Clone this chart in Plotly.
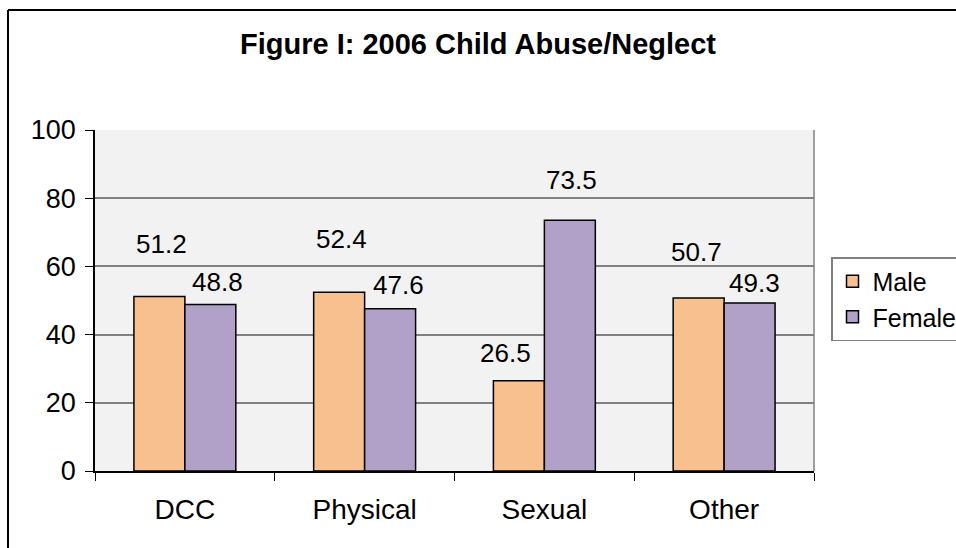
import plotly.graph_objects as go

categories = ["DCC", "Physical", "Sexual", "Other"]
male = [51.2, 52.4, 26.5, 50.7]
female = [48.8, 47.6, 73.5, 49.3]
y_ticks = [0, 20, 40, 60, 80, 100]
title_text = "Figure I: 2006 Child Abuse/Neglect"

# label placement (pixel offsets from bar top centre)
male_label_dx = [2, 2, -13, -2]
male_label_dy = [52, 53, 28, 46]
female_label_dx = [7, 8, 2, 5]
female_label_dy = [23, 24, 40, 20]

FONT = "Liberation Sans, Arial, sans-serif"
W, H = 956, 548
L, R, T, B = 95, 814, 130, 471

fig = go.Figure()
fig.add_trace(go.Bar(name="Male", x=categories, y=male,
                     marker=dict(color="#F9C08F", line=dict(color="black", width=1.5))))
fig.add_trace(go.Bar(name="Female", x=categories, y=female,
                     marker=dict(color="#B1A0C7", line=dict(color="black", width=1.5))))

ann = []
half = 25.5
for i, c in enumerate(categories):
    ann.append(dict(x=c, y=male[i], xref="x", yref="y", text=f"{male[i]}", showarrow=False,
                    xshift=-half + male_label_dx[i], yshift=male_label_dy[i], yanchor="middle",
                    font=dict(size=26, color="black", family=FONT)))
    ann.append(dict(x=c, y=female[i], xref="x", yref="y", text=f"{female[i]}", showarrow=False,
                    xshift=half + female_label_dx[i], yshift=female_label_dy[i], yanchor="middle",
                    font=dict(size=26, color="black", family=FONT)))

def px2x(p):
    return (p - L) / (R - L)

def py2y(p):
    return (B - p) / (B - T)

shapes = [
    dict(type="line", xref="paper", yref="paper", x0=px2x(8), x1=px2x(960), y0=py2y(10), y1=py2y(10),
         line=dict(color="black", width=2)),
    dict(type="line", xref="paper", yref="paper", x0=px2x(8), x1=px2x(8), y0=py2y(10), y1=py2y(552),
         line=dict(color="black", width=2)),
    dict(type="line", xref="paper", yref="paper", x0=1, x1=1, y0=0, y1=1,
         line=dict(color="#808080", width=1.5)),
]

fig.update_layout(
    width=W, height=H,
    margin=dict(l=L, r=W - R, t=T, b=H - B, autoexpand=False),
    paper_bgcolor="white",
    plot_bgcolor="#F2F2F2",
    barmode="group",
    bargap=0.433,
    bargroupgap=0,
    font=dict(family=FONT, color="black"),
    title=dict(text=f"<b>{title_text}</b>", x=478 / W, xanchor="center",
               y=1 - 44 / H, yanchor="middle", font=dict(size=29, family=FONT, color="black")),
    legend=dict(x=px2x(831), y=py2y(257), xanchor="left", yanchor="top",
                bgcolor="white", bordercolor="#808080", borderwidth=1.5,
                font=dict(size=25, family=FONT, color="black"), itemwidth=30,
                tracegroupgap=0),
    annotations=ann,
    shapes=shapes,
    xaxis=dict(tickson="boundaries", ticks="outside", ticklen=8, tickcolor="black",
               showline=True, linecolor="black", linewidth=1.5, showgrid=False,
               tickfont=dict(size=28, family=FONT, color="black"), ticklabelstandoff=13),
    yaxis=dict(range=[0, 100], tickvals=y_ticks, ticks="outside", ticklen=8, tickcolor="black",
               showline=True, linecolor="black", linewidth=1.5,
               gridcolor="#808080", gridwidth=1.5, zeroline=False,
               tickfont=dict(size=27, family=FONT, color="black"), ticklabelstandoff=4),
)

fig.write_html("out.html", config={"displayModeBar": False},
               post_script="document.body.style.margin='0';document.body.style.overflow='hidden';")
